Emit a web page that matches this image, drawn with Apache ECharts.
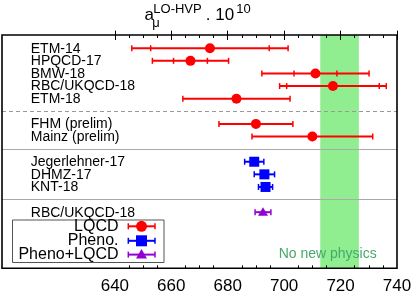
<!DOCTYPE html>
<html><head><meta charset="utf-8">
<script src="https://cdn.jsdelivr.net/npm/echarts@6/dist/echarts.min.js"></script>
<style>html,body{margin:0;padding:0;background:#fff}#c{width:415px;height:298px}</style>
</head><body><div id="c"></div>
<script>
// ---- data ----
const lqcdNames = ['ETM-14', 'HPQCD-17', 'BMW-18', 'RBC/UKQCD-18', 'ETM-18', 'FHM (prelim)', 'Mainz (prelim)'];
const lqcdRows = [1, 2, 3, 4, 5, 7, 8];
const lqcdValues = [673.7, 666.8, 711.1, 717.3, 683.1, 690.0, 710.0];
const lqcdStatErr = [21.0, 6.0, 7.6, 16.4, null, null, null];
const lqcdTotalErr = [27.7, 13.5, 19.0, 18.9, 19.0, 13.1, 21.4];

const phenoNames = ['Jegerlehner-17', 'DHMZ-17', 'KNT-18'];
const phenoRows = [10, 11, 12];
const phenoValues = [689.4, 693.0, 693.4];
const phenoErr = [3.4, 3.6, 2.5];

const comboNames = ['RBC/UKQCD-18'];
const comboRows = [14];
const comboValues = [692.5];
const comboErr = [2.8];

const noNewPhysics = [712.8, 726.5];
const dashedDividers = [6];
const solidDividers = [9, 13];

const majorTicks = [640, 660, 680, 700, 720, 740];
const minorTicks = [645, 650, 655, 665, 670, 675, 685, 690, 695, 705, 710, 715, 725, 730, 735];
const legendNames = ['LQCD', 'Pheno.', 'Pheno+LQCD'];

// ---- layout / style ----
const FONT = "'Liberation Sans', Arial, Helvetica, sans-serif";
const RED = '#ff0000', BLUE = '#0000ff', PURPLE = '#9400d3';
const labelX = 610.2;

function markerShape(kind, cx, cy, color, s) {
  s = s || 1;
  if (kind === 'circle') return {type: 'circle', shape: {cx: cx, cy: cy, r: 5 * s}, style: {fill: color}};
  if (kind === 'square') return {type: 'rect', shape: {x: cx - 5 * s, y: cy - 5 * s, width: 10 * s, height: 10 * s}, style: {fill: color}};
  return {type: 'polygon', shape: {points: [[cx, cy - 5 * s], [cx + 5 * s, cy + 3.5 * s], [cx - 5 * s, cy + 3.5 * s]]}, style: {fill: color}};
}

function errorBar(x1, x2, y, color, extraCaps) {
  const ls = {stroke: color, lineWidth: 2};
  const cap = x => ({type: 'line', shape: {x1: x, y1: y - 3, x2: x, y2: y + 3}, style: {stroke: color, lineWidth: 1.5}});
  const out = [{type: 'line', shape: {x1: x1, y1: y, x2: x2, y2: y}, style: ls}, cap(x1), cap(x2)];
  (extraCaps || []).forEach(x => out.push(cap(x)));
  return out;
}

function makeRender(totals, stats, kind, color) {
  return function (params, api) {
    const i = params.dataIndex;
    const v = api.value(0), k = api.value(1);
    const c = api.coord([v, k]);
    const lo = api.coord([v - totals[i], k])[0];
    const hi = api.coord([v + totals[i], k])[0];
    const extra = [];
    if (stats && stats[i] != null) {
      extra.push(api.coord([v - stats[i], k])[0], api.coord([v + stats[i], k])[0]);
    }
    const ch = errorBar(lo, hi, c[1], color, extra);
    ch.push(markerShape(kind, c[0], c[1], color));
    return {type: 'group', children: ch};
  };
}

const allNames = lqcdNames.concat(phenoNames, comboNames);
const allRows = lqcdRows.concat(phenoRows, comboRows);

const legendRowsY = [226.3, 240.8, 254.6];
const legendKinds = ['circle', 'square', 'triangle'];
const legendColors = [RED, BLUE, PURPLE];
const legendGraphics = [{
  type: 'rect', z: 90, shape: {x: 12.5, y: 220, width: 151.5, height: 42.5},
  style: {fill: '#fff', stroke: '#555', lineWidth: 1}
}];
legendNames.forEach((n, i) => {
  const y = legendRowsY[i];
  legendGraphics.push({type: 'text', z: 91, x: 118.5, y: y,
    style: {text: n, font: '16px ' + FONT, fill: '#000', align: 'right', verticalAlign: 'middle'}});
  errorBar(128.3, 155, y, legendColors[i]).forEach(e => { e.z = 91; legendGraphics.push(e); });
  const m = markerShape(legendKinds[i], 141.5, y, legendColors[i], 1.1);
  m.z = 92;
  legendGraphics.push(m);
});

const titleGraphics = [
  {type: 'text', x: 144.5, y: 15.4, style: {text: 'a', font: '17px ' + FONT, fill: '#000', align: 'left', verticalAlign: 'middle'}},
  {type: 'text', x: 152.3, y: 23.5, style: {text: 'μ', font: '13px ' + FONT, fill: '#000', align: 'left', verticalAlign: 'middle'}},
  {type: 'text', x: 153.3, y: 9.6, style: {text: 'LO-HVP', font: '13px ' + FONT, fill: '#000', align: 'left', verticalAlign: 'middle'}},
  {type: 'text', x: 205.8, y: 15.4, style: {text: '. 10', font: '17px ' + FONT, fill: '#000', align: 'left', verticalAlign: 'middle'}},
  {type: 'text', x: 236.3, y: 9.6, style: {text: '10', font: '13px ' + FONT, fill: '#000', align: 'left', verticalAlign: 'middle'}}
];

const chart = echarts.init(document.getElementById('c'), null, {renderer: 'canvas'});

function tickAxis(pos, values, len, labels) {
  return {
    type: 'value', position: pos, min: 600, max: 740, gridIndex: 0, z: 10,
    axisLine: {show: false},
    splitLine: {show: false},
    axisTick: {show: true, inside: true, length: len, customValues: values, lineStyle: {color: '#000', width: 1}},
    axisLabel: labels ? {show: true, customValues: values, fontSize: 17, fontFamily: FONT, color: '#000', margin: 10}
                      : {show: false, customValues: values}
  };
}

chart.setOption({
  animation: false,
  backgroundColor: '#fff',
  grid: {left: 2, top: 35, width: 395, height: 233.3, containLabel: false},
  xAxis: [
    tickAxis('bottom', majorTicks, 5, true),
    tickAxis('top', majorTicks, 5, false),
    tickAxis('bottom', minorTicks, 3, false),
    tickAxis('top', minorTicks, 3, false)
  ],
  yAxis: {type: 'value', inverse: true, min: -0.05, max: 18.45, show: false},
  series: [
    {
      type: 'scatter', symbolSize: 0, silent: true, z: 1,
      data: lqcdValues.map((v, i) => [v, lqcdRows[i]]),
      markArea: {
        silent: true,
        itemStyle: {color: '#90ee90'},
        data: [[{xAxis: noNewPhysics[0]}, {xAxis: noNewPhysics[1]}]]
      },
      markLine: {
        silent: true, symbol: 'none', label: {show: false},
        data: dashedDividers.map(d => ({yAxis: d, lineStyle: {color: '#999', width: 1, type: [4, 3]}}))
          .concat(solidDividers.map(d => ({yAxis: d, lineStyle: {color: '#aaa', width: 1, type: 'solid'}})))
      }
    },
    {
      type: 'custom', z: 5, silent: true,
      data: allNames.map((n, i) => [labelX, allRows[i]]),
      renderItem: function (params, api) {
        const c = api.coord([api.value(0), api.value(1)]);
        return {type: 'text', x: c[0], y: c[1] + 0.5,
          style: {text: allNames[params.dataIndex], font: '14px ' + FONT, fill: '#000', align: 'left', verticalAlign: 'middle'}};
      }
    },
    {type: 'custom', name: 'LQCD', z: 6, data: lqcdValues.map((v, i) => [v, lqcdRows[i]]),
      renderItem: makeRender(lqcdTotalErr, lqcdStatErr, 'circle', RED)},
    {type: 'custom', name: 'Pheno.', z: 6, data: phenoValues.map((v, i) => [v, phenoRows[i]]),
      renderItem: makeRender(phenoErr, null, 'square', BLUE)},
    {type: 'custom', name: 'Pheno+LQCD', z: 6, data: comboValues.map((v, i) => [v, comboRows[i]]),
      renderItem: makeRender(comboErr, null, 'triangle', PURPLE)}
  ],
  graphic: [
    {type: 'text', z: 50, x: 327.7, y: 253.8,
      style: {text: 'No new physics', font: '14px ' + FONT, fill: '#45a96b', align: 'center', verticalAlign: 'middle'}},
    {type: 'rect', z: 100, shape: {x: 2, y: 35, width: 395, height: 233.3},
      style: {fill: null, stroke: '#000', lineWidth: 1.6}}
  ].concat(legendGraphics, titleGraphics)
});
</script>
</body></html>
